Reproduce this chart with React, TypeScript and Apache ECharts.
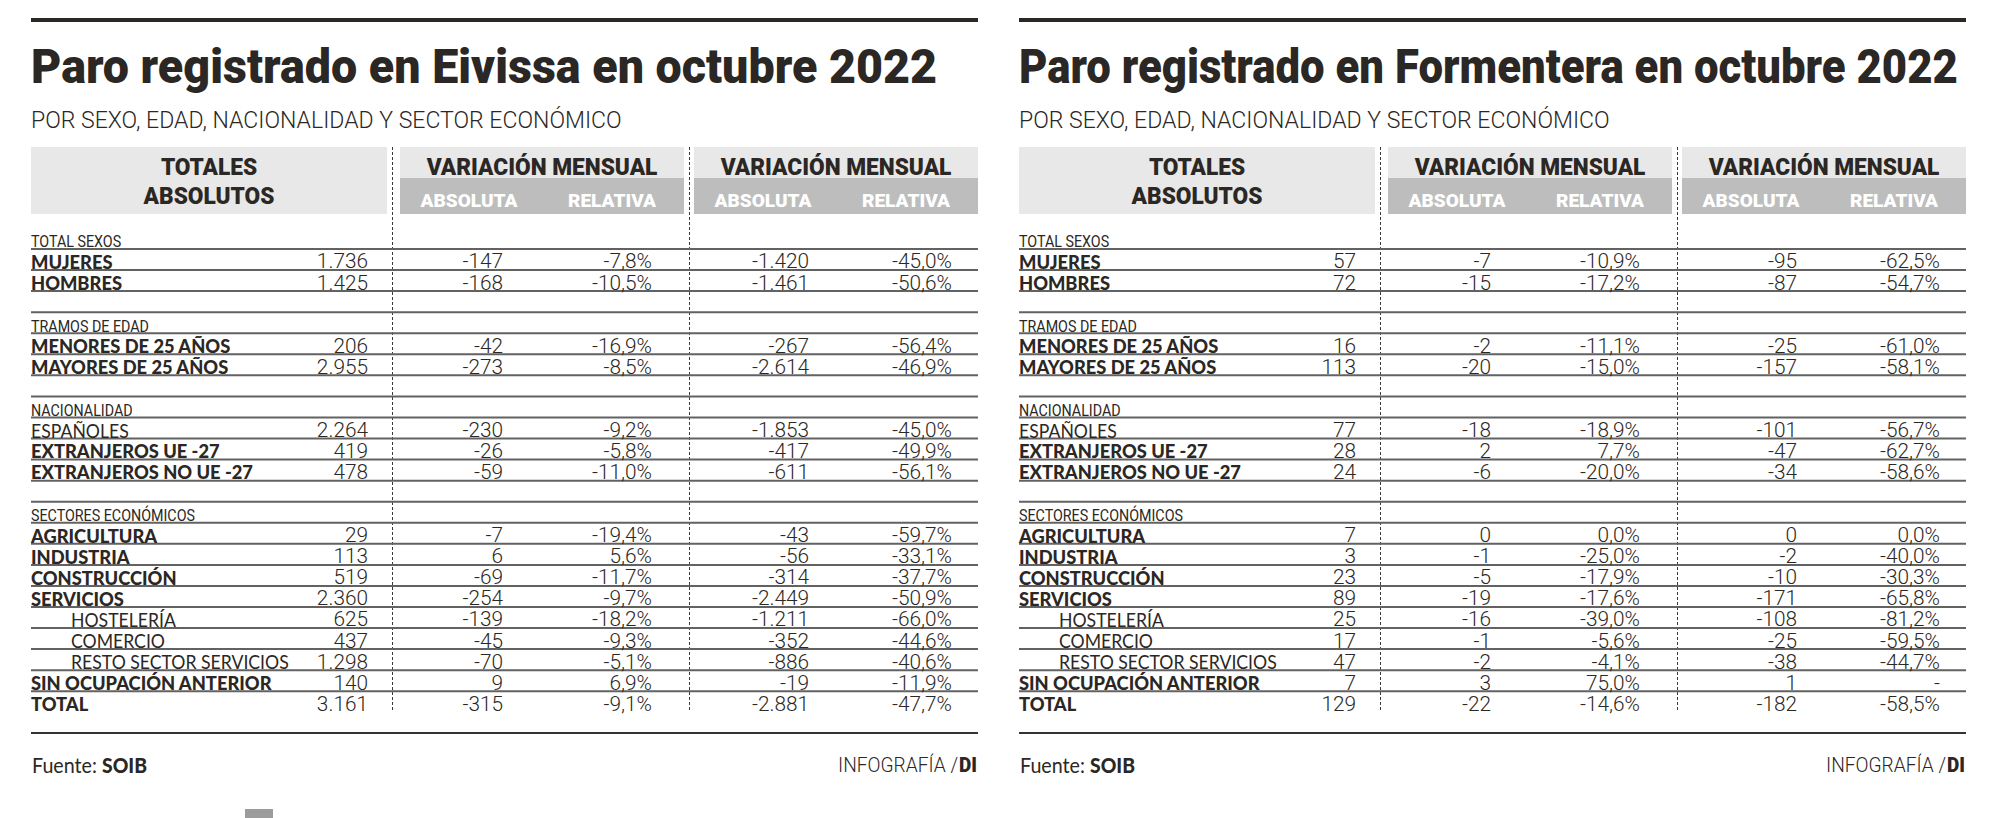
import React, { useEffect, useRef } from 'react';
import * as echarts from 'echarts';

// ---------- DATA ----------
const sections = ['TOTAL SEXOS', 'TRAMOS DE EDAD', 'NACIONALIDAD', 'SECTORES ECONÓMICOS'];
const categories = [
  'MUJERES', 'HOMBRES',
  'MENORES DE 25 AÑOS', 'MAYORES DE 25 AÑOS',
  'ESPAÑOLES', 'EXTRANJEROS UE -27', 'EXTRANJEROS NO UE -27',
  'AGRICULTURA', 'INDUSTRIA', 'CONSTRUCCIÓN', 'SERVICIOS', 'HOSTELERÍA', 'COMERCIO',
  'RESTO SECTOR SERVICIOS', 'SIN OCUPACIÓN ANTERIOR', 'TOTAL',
];
const categorySection = [0, 0, 1, 1, 2, 2, 2, 3, 3, 3, 3, 3, 3, 3, 3, 3];
const lightCategories = ['ESPAÑOLES', 'HOSTELERÍA', 'COMERCIO', 'RESTO SECTOR SERVICIOS'];
const indentedCategories = ['HOSTELERÍA', 'COMERCIO', 'RESTO SECTOR SERVICIOS'];

const headerTotals = ['TOTALES', 'ABSOLUTOS'];
const headerGroups = ['VARIACIÓN MENSUAL', 'VARIACIÓN MENSUAL'];
const headerSub = ['ABSOLUTA', 'RELATIVA'];

const eivissaTotal = [1736, 1425, 206, 2955, 2264, 419, 478, 29, 113, 519, 2360, 625, 437, 1298, 140, 3161];
const eivissaAbs = [-147, -168, -42, -273, -230, -26, -59, -7, 6, -69, -254, -139, -45, -70, 9, -315];
const eivissaRel = [-7.8, -10.5, -16.9, -8.5, -9.2, -5.8, -11.0, -19.4, 5.6, -11.7, -9.7, -18.2, -9.3, -5.1, 6.9, -9.1];
const eivissaAbs2 = [-1420, -1461, -267, -2614, -1853, -417, -611, -43, -56, -314, -2449, -1211, -352, -886, -19, -2881];
const eivissaRel2 = [-45.0, -50.6, -56.4, -46.9, -45.0, -49.9, -56.1, -59.7, -33.1, -37.7, -50.9, -66.0, -44.6, -40.6, -11.9, -47.7];

const formenteraTotal = [57, 72, 16, 113, 77, 28, 24, 7, 3, 23, 89, 25, 17, 47, 7, 129];
const formenteraAbs = [-7, -15, -2, -20, -18, 2, -6, 0, -1, -5, -19, -16, -1, -2, 3, -22];
const formenteraRel = [-10.9, -17.2, -11.1, -15.0, -18.9, 7.7, -20.0, 0.0, -25.0, -17.9, -17.6, -39.0, -5.6, -4.1, 75.0, -14.6];
const formenteraAbs2 = [-95, -87, -25, -157, -101, -47, -34, 0, -2, -10, -171, -108, -25, -38, 1, -182];
const formenteraRel2: (number | null)[] = [-62.5, -54.7, -61.0, -58.1, -56.7, -62.7, -58.6, 0.0, -40.0, -30.3, -65.8, -81.2, -59.5, -44.7, null, -58.5];

const titles = ['Paro registrado en Eivissa en octubre 2022', 'Paro registrado en Formentera en octubre 2022'];
const subtitle = 'POR SEXO, EDAD, NACIONALIDAD Y SECTOR ECONÓMICO';
const sourceLabel = 'Fuente:';
const sourceName = 'SOIB';
const creditLabel = 'INFOGRAFÍA /';
const creditName = 'DI';

// ---------- LAYOUT / STYLE ----------
const INK = '#2b2724';
const RULE = '#626262';
const PANEL_X = [31, 1019];
const PANEL_W = 947;
const TITLE_W = [906, 939];
const ROW_TOP = 249;
const ROW_BOTTOM = 712.3;
const COL = { label: 0, indent: 40, total: 337, abs: 472, rel: 621, abs2: 778, rel2: 921 };
const DASH_X = [361, 658];

type Sty = { font: string; size: number; sx: number; base: number };

let measureCtx: CanvasRenderingContext2D | null = null;
function measure(text: string, font: string) {
  if (!measureCtx) measureCtx = document.createElement('canvas').getContext('2d');
  measureCtx!.font = font;
  return measureCtx!.measureText(text).width;
}
function sty(font: string, size: number, sample: string, target: number, base: number): Sty {
  const w = measure(sample, font);
  return { font, size, sx: w > 0 ? target / w : 1, base };
}

function fmtInt(v: number) {
  const s = Math.abs(v).toString().replace(/\B(?=(\d{3})+(?!\d))/g, '.');
  return (v < 0 ? '-' : '') + s;
}
function fmtPct(v: number | null) {
  if (v === null) return '-';
  return (v < 0 ? '-' : '') + Math.abs(v).toFixed(1).replace('.', ',') + '%';
}

function T(x: number, baseline: number, text: string, s: Sty, align: string, fill = INK): any {
  return {
    type: 'text',
    x,
    y: baseline - s.size * s.base,
    scaleX: s.sx,
    silent: true,
    style: {
      text,
      font: s.font,
      fill,
      align,
      textAlign: align,
      verticalAlign: 'middle',
      textVerticalAlign: 'middle',
    },
  };
}

function buildOption() {
  const S = {
    titles: titles.map((t, i) => sty('900 48px Roboto', 48, t, TITLE_W[i], 0.34)),
    subtitle: sty('300 23px Roboto', 23, subtitle, 591, 0.34),
    headBig: sty('900 24px Roboto', 24, 'VARIACIÓN MENSUAL', 231, 0.34),
    headSmall: sty('900 19px Roboto', 19, 'ABSOLUTA', 97, 0.34),
    labelBold: sty('900 19px Lato', 19, 'MENORES DE 25 AÑOS', 200, 0.36),
    labelLight: sty('400 20px Lato', 20, 'RESTO SECTOR SERVICIOS', 218, 0.36),
    section: sty('400 16px Roboto', 16, 'SECTORES ECONÓMICOS', 164, 0.34),
    number: sty('300 21px Roboto', 21, '-45,0%', 60, 0.34),
    source: sty('400 21px Lato', 21, sourceLabel, 65, 0.36),
    sourceB: sty('900 21px Lato', 21, sourceName, 45, 0.36),
    credit: sty('300 21px Roboto', 21, creditLabel, 120, 0.34),
    creditB: sty('900 21px Roboto', 21, creditName, 18, 0.34),
  };

  const panels = [
    { total: eivissaTotal, abs: eivissaAbs, rel: eivissaRel, abs2: eivissaAbs2, rel2: eivissaRel2 as (number | null)[] },
    { total: formenteraTotal, abs: formenteraAbs, rel: formenteraRel, abs2: formenteraAbs2, rel2: formenteraRel2 },
  ];

  type Slot = { kind: 'section' | 'row' | 'blank'; text: string; cat: number };
  const slots: Slot[] = [];
  sections.forEach((s, si) => {
    if (si > 0) slots.push({ kind: 'blank', text: '', cat: -1 });
    slots.push({ kind: 'section', text: s, cat: -1 });
    categories.forEach((c, ci) => {
      if (categorySection[ci] === si) slots.push({ kind: 'row', text: c, cat: ci });
    });
  });
  const lastSlot = slots.length - 1;

  const graphics: any[] = [];
  PANEL_X.forEach((px, pi) => {
    graphics.push({ type: 'rect', silent: true, shape: { x: px, y: 18, width: PANEL_W, height: 4 }, style: { fill: INK } });
    graphics.push(T(px, 83, titles[pi], S.titles[pi], 'left'));
    graphics.push(T(px, 128, subtitle, S.subtitle, 'left'));
    const boxes = [
      [px, 356],
      [px + 369, 284],
      [px + 663, 284],
    ];
    boxes.forEach(([bx, bw], bi) => {
      graphics.push({ type: 'rect', silent: true, shape: { x: bx, y: 147, width: bw, height: 67 }, style: { fill: '#e8e8e8' } });
      if (bi > 0) {
        graphics.push({ type: 'rect', silent: true, shape: { x: bx, y: 178, width: bw, height: 36 }, style: { fill: '#bdbdbd' } });
        graphics.push(T(bx + bw / 2, 175, headerGroups[bi - 1], S.headBig, 'center'));
        graphics.push(T(bx + 69, 207, headerSub[0], S.headSmall, 'center', '#ffffff'));
        graphics.push(T(bx + 212, 207, headerSub[1], S.headSmall, 'center', '#ffffff'));
      } else {
        graphics.push(T(bx + bw / 2, 175, headerTotals[0], S.headBig, 'center'));
        graphics.push(T(bx + bw / 2, 204, headerTotals[1], S.headBig, 'center'));
      }
    });
    DASH_X.forEach((dx) => {
      graphics.push({
        type: 'line', silent: true,
        shape: { x1: px + dx + 0.5, y1: 147, x2: px + dx + 0.5, y2: 712 },
        style: { stroke: '#3a3a3a', lineWidth: 1, lineDash: [3, 2] },
      });
    });
    graphics.push({ type: 'line', silent: true, shape: { x1: px, y1: 733, x2: px + PANEL_W, y2: 733 }, style: { stroke: '#333333', lineWidth: 2 } });
    graphics.push(T(px + 1, 772, sourceLabel, S.source, 'left'));
    graphics.push(T(px + 71, 772, sourceName, S.sourceB, 'left'));
    graphics.push(T(px + 927, 772, creditLabel, S.credit, 'right'));
    graphics.push(T(px + 946, 772, creditName, S.creditB, 'right'));
  });
  graphics.push({ type: 'rect', silent: true, shape: { x: 245, y: 809, width: 28, height: 9 }, style: { fill: '#9c9c9c' } });

  const grids = PANEL_X.map((px) => ({ left: px, width: PANEL_W, top: ROW_TOP, height: ROW_BOTTOM - ROW_TOP }));
  const xAxes = PANEL_X.map((_, i) => ({ type: 'value', gridIndex: i, min: 0, max: PANEL_W, show: false }));
  const yAxes = PANEL_X.map((_, i) => ({ type: 'value', gridIndex: i, min: 0, max: lastSlot, inverse: true, show: false }));

  const series = panels.map((p, pi) => ({
    type: 'custom',
    coordinateSystem: 'cartesian2d',
    xAxisIndex: pi,
    yAxisIndex: pi,
    clip: false,
    silent: true,
    data: slots.map((_, i) => [0, i]),
    renderItem: (params: any, api: any) => {
      const slot = slots[params.dataIndex];
      const k = api.value(1);
      const at = (x: number) => api.coord([x, k]);
      const [x0, y] = at(0);
      const [x1] = at(PANEL_W);
      const children: any[] = [];
      if (params.dataIndex < lastSlot) {
        children.push({ type: 'line', shape: { x1: x0, y1: y, x2: x1, y2: y }, style: { stroke: RULE, lineWidth: 2 } });
      }
      const base = y - 1.5;
      if (slot.kind === 'section') children.push(T(x0, base, slot.text, S.section, 'left'));
      if (slot.kind === 'row') {
        const c = slot.cat;
        const light = lightCategories.includes(slot.text);
        const indent = indentedCategories.includes(slot.text);
        children.push(T(at(indent ? COL.indent : COL.label)[0], base, slot.text, light ? S.labelLight : S.labelBold, 'left'));
        const vals = [fmtInt(p.total[c]), fmtInt(p.abs[c]), fmtPct(p.rel[c]), fmtInt(p.abs2[c]), fmtPct(p.rel2[c])];
        [COL.total, COL.abs, COL.rel, COL.abs2, COL.rel2].forEach((cx, j) => {
          children.push(T(at(cx)[0], base, vals[j], S.number, 'right'));
        });
      }
      return { type: 'group', children };
    },
  }));

  return {
    animation: false,
    backgroundColor: '#ffffff',
    grid: grids,
    xAxis: xAxes,
    yAxis: yAxes,
    series,
    graphic: { elements: graphics },
  };
}

export default function App() {
  const ref = useRef<HTMLDivElement>(null);
  useEffect(() => {
    const chart = echarts.init(ref.current!, null, { renderer: 'svg' });
    chart.setOption(buildOption() as any);
    return () => chart.dispose();
  }, []);
  return <div ref={ref} style={{ position: 'fixed', left: 0, top: 0, width: 2000, height: 818 }} />;
}
